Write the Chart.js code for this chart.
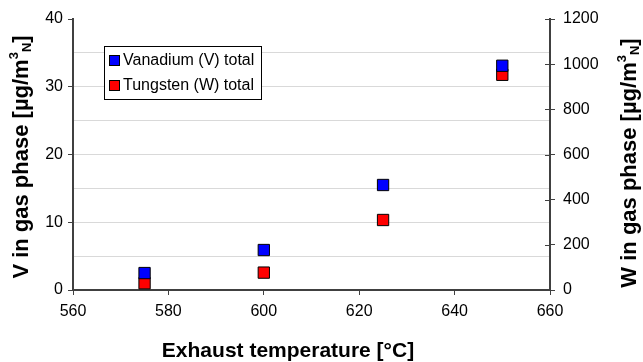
<!DOCTYPE html>
<html>
<head>
    <title>V and W in gas phase</title>
    <script src="https://cdn.jsdelivr.net/npm/chart.js@4/dist/chart.umd.min.js"></script>
    <style>
        body { margin: 0; background: #fff; }
        #wrap { width: 643px; height: 362px; }
    </style>
</head>
<body>
    <div id="wrap"><canvas id="chartcanvas"></canvas></div>

    <script>
        // data
        const temps = [575, 600, 625, 650];
        const vanadium = [2.5, 5.9, 15.5, 33.1];   // ug/m3N, left axis
        const tungsten = [30, 77, 310, 953];       // ug/m3N, right axis
        const xTicks = [560, 580, 600, 620, 640, 660];
        const vTicks = [0, 10, 20, 30, 40];
        const wTicks = [0, 200, 400, 600, 800, 1000, 1200];

        const FONT = "'Liberation Sans', Arial, sans-serif";
        const AXIS = '#404040';

        function pts(xs, ys) {
            return xs.map((x, i) => ({ x: x, y: ys[i] }));
        }

        // draws a rotated/plain title with superscript 3 and subscript N
        function richText(c, parts, cx, cy, rot) {
            c.save();
            c.translate(cx, cy);
            c.rotate(rot);
            let total = 0;
            parts.forEach(p => { c.font = p.f; total += c.measureText(p.t).width; });
            let x = -total / 2;
            c.textBaseline = 'middle';
            c.fillStyle = '#000';
            parts.forEach(p => {
                c.font = p.f;
                c.fillText(p.t, x, p.dy || 0);
                x += c.measureText(p.t).width;
            });
            c.restore();
        }

        function unitParts(name) {
            return [
                { t: name + ' in gas phase [µg/m', f: 'bold 22px ' + FONT },
                { t: '3', f: 'bold 13px ' + FONT, dy: -8 },
                { t: 'N', f: 'bold 13px ' + FONT, dy: 5 },
                { t: ']', f: 'bold 22px ' + FONT }
            ];
        }

        const extras = {
            id: 'extras',
            afterDraw(chart) {
                const c = chart.ctx;
                const ca = chart.chartArea;

                // right axis ticks also poke into the plot
                const y2 = chart.scales.y2;
                c.save();
                c.strokeStyle = AXIS;
                c.lineWidth = 1;
                wTicks.forEach(v => {
                    const py = Math.round(y2.getPixelForValue(v)) + 0.5;
                    c.beginPath();
                    c.moveTo(ca.right - 5, py);
                    c.lineTo(ca.right, py);
                    c.stroke();
                });
                c.restore();

                // axis titles
                richText(c, [{ t: 'Exhaust temperature [°C]', f: 'bold 21px ' + FONT }], 288, 351, 0);
                richText(c, unitParts('V'), 22, 157, -Math.PI / 2);
                richText(c, unitParts('W'), 630, 163, -Math.PI / 2);

                // legend box
                const lx = 104, ly = 46, lw = 157, lh = 53;
                c.save();
                c.fillStyle = '#fff';
                c.fillRect(lx, ly, lw, lh);
                c.strokeStyle = '#000';
                c.lineWidth = 1;
                c.strokeRect(lx + 0.5, ly + 0.5, lw, lh);
                const items = [
                    { label: 'Vanadium (V) total', color: chart.data.datasets[0].backgroundColor, y: 60 },
                    { label: 'Tungsten (W) total', color: chart.data.datasets[1].backgroundColor, y: 85 }
                ];
                c.font = '16px ' + FONT;
                c.textBaseline = 'middle';
                items.forEach(it => {
                    c.fillStyle = it.color;
                    c.fillRect(109, it.y - 5, 11, 11);
                    c.strokeStyle = '#000';
                    c.strokeRect(109.5, it.y - 4.5, 10, 10);
                    c.fillStyle = '#000';
                    c.fillText(it.label, 123, it.y + 1);
                });
                c.restore();
            }
        };

        const ctx = document.getElementById('chartcanvas');

        var chart = new Chart(ctx, {
            type: 'scatter',
            data: {
                datasets: [{
                    label: 'Vanadium (V) total',
                    data: pts(temps, vanadium),
                    yAxisID: 'y',
                    backgroundColor: '#0000ff',
                    borderColor: '#000',
                    borderWidth: 1,
                    pointStyle: 'rect',
                    pointRadius: 8,
                    pointHoverRadius: 8
                },
                {
                    label: 'Tungsten (W) total',
                    data: pts(temps, tungsten),
                    yAxisID: 'y2',
                    backgroundColor: '#ff0000',
                    borderColor: '#000',
                    borderWidth: 1,
                    pointStyle: 'rect',
                    pointRadius: 8,
                    pointHoverRadius: 8
                }]
            },
            options: {
                responsive: true,
                maintainAspectRatio: false,
                animation: false,
                events: [],
                layout: { padding: { top: 19, left: 0, right: 0, bottom: 0 } },
                plugins: {
                    legend: { display: false },
                    tooltip: { enabled: false }
                },
                scales: {
                    x: {
                        type: 'linear',
                        min: xTicks[0],
                        max: xTicks[xTicks.length - 1],
                        afterBuildTicks: s => { s.ticks = xTicks.map(v => ({ value: v })); },
                        afterFit: s => { s.height = 72; },
                        grid: { drawOnChartArea: false, tickLength: 5, tickColor: AXIS },
                        border: { color: AXIS, width: 2 },
                        ticks: { color: '#000', font: { family: FONT, size: 16 }, padding: 7, maxRotation: 0 }
                    },
                    y: {
                        position: 'left',
                        min: 0,
                        max: 40,
                        ticks: {
                            stepSize: 5,
                            color: '#000',
                            font: { family: FONT, size: 16 },
                            padding: 5,
                            callback: v => vTicks.includes(v) ? String(v) : ''
                        },
                        afterFit: s => { s.width = 73; },
                        grid: {
                            tickLength: 5,
                            color: c => (c.tick && c.tick.value > 0 && c.tick.value < 40) ? '#d9d9d9' : 'rgba(0,0,0,0)',
                            tickColor: c => (c.tick && vTicks.includes(c.tick.value)) ? AXIS : 'rgba(0,0,0,0)'
                        },
                        border: { color: AXIS, width: 2 }
                    },
                    y2: {
                        position: 'right',
                        min: 0,
                        max: 1200,
                        ticks: {
                            stepSize: 200,
                            color: '#000',
                            font: { family: FONT, size: 16 },
                            padding: 8,
                            callback: v => String(v)
                        },
                        afterFit: s => { s.width = 93; },
                        grid: { drawOnChartArea: false, tickLength: 5, tickColor: AXIS },
                        border: { color: AXIS, width: 2 }
                    }
                }
            },
            plugins: [extras]
        });
    </script>
</body>
</html>
